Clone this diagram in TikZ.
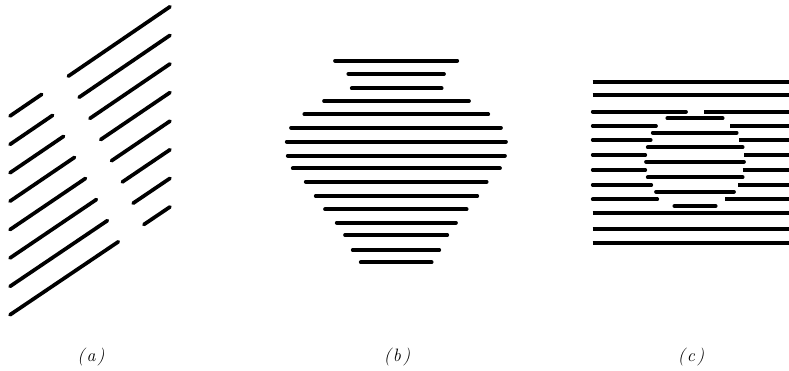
\documentclass[tikz,border=0pt]{standalone}
\usepackage{fontspec}
\setmainfont{Latin Modern Roman}
\usetikzlibrary{calc}
\begin{document}
\begin{tikzpicture}[x=1bp,y=-1bp,
  bar/.style={line width=3.7bp,line cap=round,black},
  lab/.style={font=\fontsize{18}{20}\selectfont\itshape,inner sep=0pt}]
\useasboundingbox[fill=white] (0,0) rectangle (789,370);
% ---- panel (a)
\foreach \i in {0,...,7}{
  \pgfmathsetmacro{\ya}{116+28.4*\i}
  \pgfmathsetmacro{\yb}{6.7+28.6*\i}
  \pgfmathsetmacro{\tl}{(31.7+10.95*\i)/160}
  \pgfmathsetmacro{\tr}{(58.3+10.8*\i)/160}
  \coordinate (A\i) at (10,\ya);
  \coordinate (B\i) at (170,\yb);
  \draw[bar] (A\i) -- ($(A\i)!\tl!(B\i)$);
  \draw[bar] ($(A\i)!\tr!(B\i)$) -- (B\i);
}
% ---- panel (b)
\foreach \y/\xa/\xb in {60.7/335/457.3, 74/348.3/444, 88.3/351.7/441.7,
  101/324/469, 114.3/304.3/488.3, 127.7/291/501, 141.7/286.7/506,
  155.7/287.7/505, 168.3/292.7/500, 181.7/305.7/486.7, 196/315.7/477.3,
  209.3/325/466.7, 222.7/336.7/456, 235/345/447.3, 250/352.7/439.3,
  262.3/360.7/431.7}{
  \draw[bar] (\xa,\y) -- (\xb,\y);
}
% ---- panel (c): full background lines
\foreach \y in {81.7,95,213.3,229.3,243.3}{
  \draw[bar,line cap=butt] (592.7,\y) -- (789,\y);
}
% background lines broken by the disc
\foreach \y/\ga/\gb in {111.7/686/704, 126/656/730, 140/650.7/739.3,
  155/645.3/744, 170/645.3/742.7, 185/651.3/738.3, 199.3/657.3/725}{
  \draw[bar] (592.7,\y) -- (\ga,\y);
  \draw[bar,line cap=butt] (\gb,\y) -- (789,\y);
}
% lines inside the disc
\foreach \y/\xa/\xb in {118.3/667.3/722.7, 132.7/652.7/736.7,
  147.3/647.7/742.7, 161.7/646/744, 177.3/647.7/742.7, 191.7/656/734,
  206/674.3/715.7}{
  \draw[bar] (\xa,\y) -- (\xb,\y);
}
% ---- labels
\node[lab] (la) at (91,357) {(\kern2pt a\kern2pt)};
\node[lab] (lb) at (397,357) {(\kern2pt b\kern2pt)};
\node[lab] (lc) at (691,357) {(\kern2pt c\kern2pt)};
\end{tikzpicture}
\end{document}
